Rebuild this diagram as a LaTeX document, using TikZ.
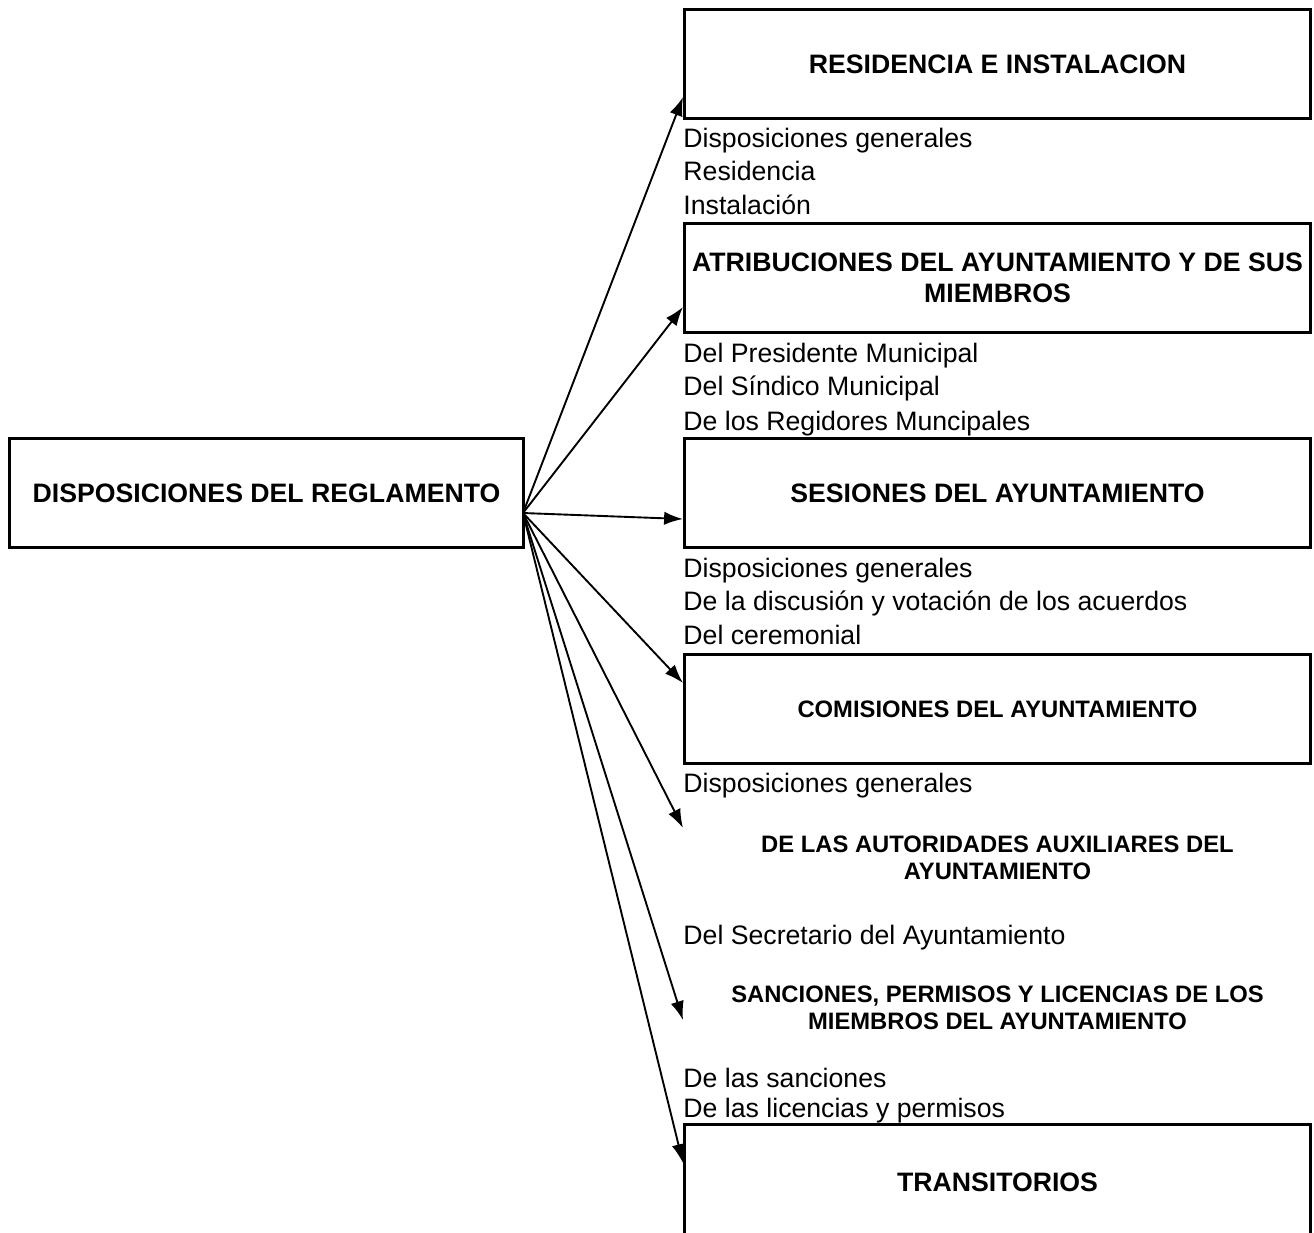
\documentclass[tikz,border=0pt]{standalone}
\usepackage{fontspec}
\setmainfont{Liberation Sans}
\usetikzlibrary{arrows.meta}

\tikzset{
  box/.style={draw, line width=1.4pt, minimum width=282pt, minimum height=49pt,
    inner sep=0pt, align=center, font=\bfseries\fontsize{12}{14}\selectfont},
  head/.style={align=center, inner sep=0pt, font=\bfseries\fontsize{10.7}{12.2}\selectfont},
  item/.style={anchor=west, inner sep=0pt, text height=9pt, text depth=2.5pt,
    font=\fontsize{12}{15}\selectfont},
  link/.style={line width=0.85pt, -{Latex[length=8.5pt,width=6pt]}}
}

\begin{document}
\begin{tikzpicture}[x=0.45pt, y=-0.45pt]
      \useasboundingbox (0,0) rectangle (1314,1232);

      % Main box
      \node[box, minimum width=231pt] (main) at (266.5,493) {DISPOSICIONES DEL REGLAMENTO};

      % Right column
      \node[box] (resid) at (997.5,64) {RESIDENCIA E INSTALACION};
      \node[box] (atrib) at (997.5,278) {ATRIBUCIONES DEL AYUNTAMIENTO Y DE SUS\\MIEMBROS};
      \node[box] (sesion) at (997.5,493) {SESIONES DEL AYUNTAMIENTO};
      \node[box, font=\bfseries\fontsize{10.7}{12.2}\selectfont] (comis) at (997.5,709) {COMISIONES DEL AYUNTAMIENTO};
      \node[head] (autor) at (997.5,858) {DE LAS AUTORIDADES AUXILIARES DEL\\AYUNTAMIENTO};
      \node[head] (sanc) at (997.5,1008) {SANCIONES, PERMISOS Y LICENCIAS DE LOS\\MIEMBROS DEL AYUNTAMIENTO};
      \node[box, minimum height=52pt] (trans) at (997.5,1182.5) {TRANSITORIOS};

      % Sub items
      \foreach \y/\t [count=\k] in {140/Disposiciones generales, 173/Residencia, 207/Instalación,
          355/Del Presidente Municipal, 388/Del Síndico Municipal, 423/De los Regidores Muncipales,
          570/Disposiciones generales, 603/De la discusión y votación de los acuerdos, 637/Del ceremonial,
          785/Disposiciones generales, 937/Del Secretario del Ayuntamiento,
          1080/De las sanciones, 1110/De las licencias y permisos} {
        \node[item] (sub\k) at (683,\y) {\t};
      };

      % Arrows
      \coordinate (src) at (523,513);
      \foreach \y [count=\k] in {97,307,519,683,828,1020,1163} {
        \coordinate (tip\k) at (683,\y);
        \draw[link] (src) -- (tip\k);
      };
    \end{tikzpicture}
\end{document}
